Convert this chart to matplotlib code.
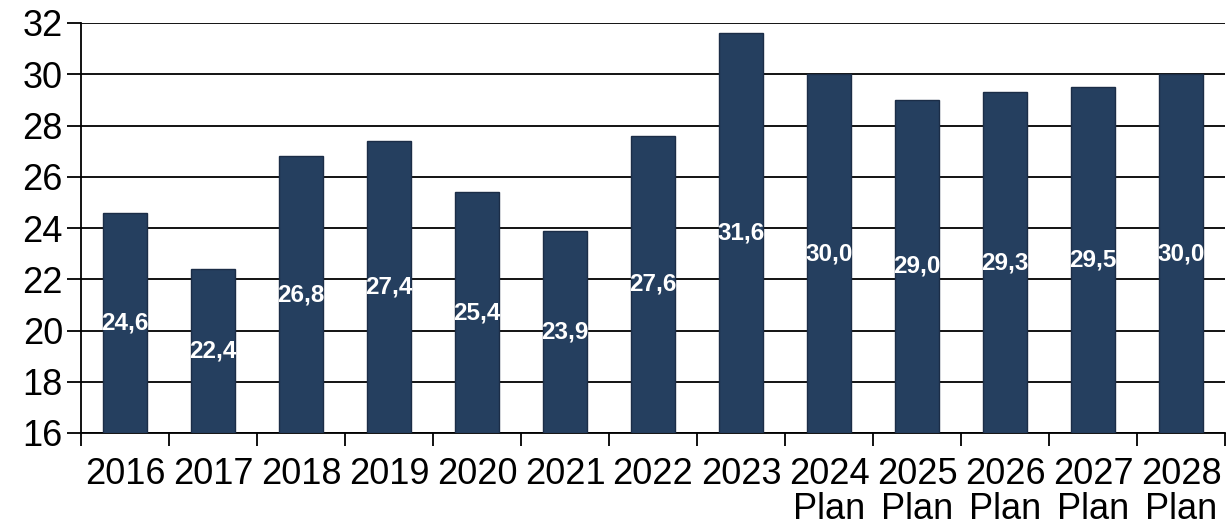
import matplotlib
matplotlib.use("Agg")
import matplotlib.pyplot as plt
from matplotlib.ticker import FixedLocator

plt.rcParams['font.family'] = ['Liberation Sans', 'DejaVu Sans']

years = ["2016", "2017", "2018", "2019", "2020", "2021", "2022", "2023",
         "2024\nPlan", "2025\nPlan", "2026\nPlan", "2027\nPlan", "2028\nPlan"]
values = [24.6, 22.4, 26.8, 27.4, 25.4, 23.9, 27.6, 31.6, 30.0, 29.0, 29.3, 29.5, 30.0]

y_min, y_max = 16, 32
bar_color = "#253F5F"

fig = plt.figure(figsize=(12.27, 5.29), dpi=100)
ax = fig.add_axes([81 / 1227, 1 - 433 / 529, (1225 - 81) / 1227, (433 - 23) / 529])

x = list(range(len(years)))
heights = [v - y_min for v in values]
ax.bar(x, heights, bottom=y_min, width=0.51, color=bar_color,
       edgecolor="#1B2D47", linewidth=1.0, zorder=3)

for xi, v in zip(x, values):
    ax.text(xi, (y_min + v) / 2, f"{v:.1f}".replace(".", ","), ha="center", va="center",
            color="white", fontsize=17.5, fontweight="bold", zorder=4)

ax.set_xlim(-0.5, len(years) - 0.5)
ax.set_ylim(y_min, y_max)
ax.set_yticks(range(16, 33, 2))
ax.yaxis.grid(True, color="black", linewidth=1.3, zorder=0)

ax.set_xticks(x)
ax.set_xticklabels(years, fontsize=26, linespacing=1.0)
ax.xaxis.set_minor_locator(FixedLocator([i + 0.5 for i in range(-1, len(years))]))
ax.tick_params(axis="x", which="major", length=0, pad=17)
ax.tick_params(axis="x", which="minor", length=9, width=1.3, direction="out")
ax.tick_params(axis="y", labelsize=26, length=10, width=1.3, pad=3)

for side in ["top", "right"]:
    ax.spines[side].set_visible(False)
ax.spines["left"].set_linewidth(1.3)
ax.spines["bottom"].set_linewidth(1.3)

fig.savefig("out.png", dpi=100)
